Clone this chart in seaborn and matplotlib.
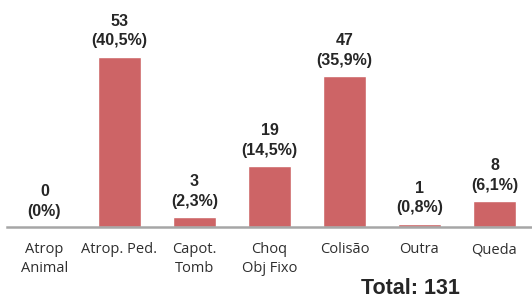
import numpy as np
import matplotlib
matplotlib.use('Agg')
import matplotlib.pyplot as plt
import seaborn as sns

categorias = ['Atrop\nAnimal', 'Atrop. Ped.', 'Capot.\nTomb', 'Choq\nObj Fixo', 'Colisão', 'Outra', 'Queda']
valores = [0, 53, 3, 19, 47, 1, 8]
percentuais = ['0%', '40,5%', '2,3%', '14,5%', '35,9%', '0,8%', '6,1%']
total = 131

sns.set_style('white')
plt.rcParams['font.family'] = ['Liberation Sans', 'DejaVu Sans']

fig = plt.figure(figsize=(5.32, 2.98), dpi=100)
ax = fig.add_axes([7 / 532, (298 - 227) / 298, 1 - 7 / 532, 227 / 298])

sns.barplot(x=categorias, y=valores, color='#CD6466', saturation=1, width=0.58, ax=ax)

ax.set_xlim(-0.5, 6.5)
ax.set_ylim(0, 70.7)

for i, (v, p) in enumerate(zip(valores, percentuais)):
    ax.annotate(f'{v}\n({p})', (i, v), xytext=(0, 6), textcoords='offset points',
                ha='center', va='bottom', fontsize=11.5, fontweight='bold',
                color='#262626', linespacing=1.4)

for s in ['top', 'right', 'left']:
    ax.spines[s].set_visible(False)
ax.spines['bottom'].set_color('#A6A6A6')
ax.spines['bottom'].set_linewidth(1.8)
ax.set_yticks([])
ax.set_xticks(range(len(categorias)))
ax.set_xticklabels(categorias, fontfamily='Open Sans', fontsize=10.5, color='#2E2E2E', linespacing=1.35)
ax.tick_params(axis='x', which='major', length=0, pad=11)
ax.set_xticks(np.arange(-0.5, 7, 1), minor=True)
ax.tick_params(axis='x', which='minor', length=5, width=1.5, color='#A6A6A6', direction='out')
ax.set_xlabel('')
ax.set_ylabel('')

fig.text(410 / 532, 1 - 288 / 298, f'Total: {total}', ha='center', va='center',
         fontsize=15.5, fontweight='bold', color='#262626')

fig.savefig('out.png', dpi=100)
